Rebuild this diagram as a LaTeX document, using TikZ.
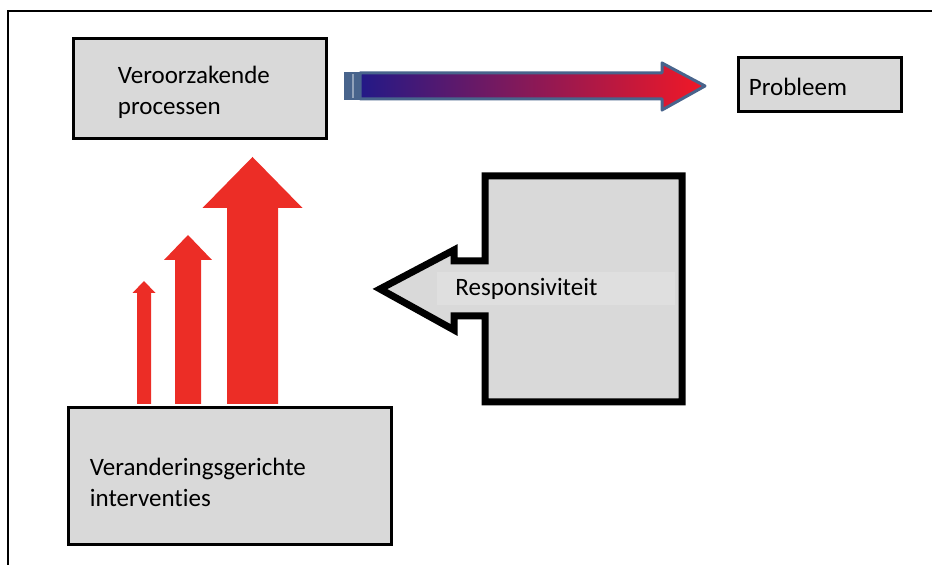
\documentclass[tikz,border=0pt]{standalone}
\usepackage{fontspec}
\setmainfont{Carlito}[RawFeature={-liga}]
\usepackage{tikz}
\definecolor{boxgray}{RGB}{217,217,217}
\definecolor{textgray}{RGB}{223,223,223}
\definecolor{arrowred}{RGB}{236,45,38}
\definecolor{startblue}{RGB}{35,25,135}
\definecolor{midpurple}{RGB}{130,25,135}
\definecolor{endred}{RGB}{242,24,38}
\definecolor{edgeblue}{RGB}{72,100,140}
\usetikzlibrary{positioning}

\begin{document}
\begin{tikzpicture}[
        x=0.5pt, y=-0.5pt,
        box/.style={rectangle, draw=black, fill=boxgray, line width=1.5pt},
        label/.style={anchor=west, inner sep=0pt, align=left,
                      font=\fontsize{12.5}{15.5}\selectfont},
        uparrow/.style={fill=arrowred}
    ]
        \useasboundingbox (0,0) rectangle (932,565);
        \draw[line width=1pt] (8,565) -- (8,11) -- (932,11);

        % boxes
        \node[box, minimum width=126.5pt, minimum height=50pt] (cause) at (200,89) {};
        \node[label, right=22.75pt of cause.west, yshift=-1.5pt] (causetext) {Veroorzakende\\processen};
        \node[box, minimum width=81.5pt, minimum height=27pt] (problem) at (820,84.5) {};
        \node[label, right=5.75pt of problem.west, yshift=-1.25pt] (problemtext) {Probleem};
        \node[box, minimum width=161.5pt, minimum height=68.5pt] (change) at (229.5,476.5) {};
        \node[label, right=11.5pt of change.west, yshift=-2.75pt] (changetext) {Veranderingsgerichte\\interventies};

        % gradient arrow
        \fill[edgeblue] (344,72) rectangle (360,100);
        \draw[edgeblue!60, line width=0.6pt] (353,74) -- (353,98);
        \shade[left color=startblue, middle color=midpurple, right color=endred, draw=edgeblue, line width=1.5pt, line join=round]
            (360,73) -- (662,73) -- (662,63) -- (705,86) -- (662,110) -- (662,99) -- (360,99) -- cycle;

        % red arrows
        \foreach \cx/\sw/\hw/\hb/\tp in {144/7/11.5/293/281, 188/13/24/260/235, 252.5/25.5/50/208/157}
            \fill[uparrow] (\cx-\sw,404) -- (\cx-\sw,\hb) -- (\cx-\hw,\hb) -- (\cx,\tp)
                -- (\cx+\hw,\hb) -- (\cx+\sw,\hb) -- (\cx+\sw,404) -- cycle;

        % responsiviteit
        \draw[fill=boxgray, line width=3.5pt, line join=miter]
            (485,176) -- (682,176) -- (682,402) -- (485,402) -- (485,316) -- (454,316)
            -- (454,330) -- (380,289) -- (454,250) -- (454,261) -- (485,261) -- cycle;
        \node[label, fill=textgray, inner xsep=9pt, minimum height=16.5pt, text width=101pt] (resp) at (437,289) {Responsiviteit};
    \end{tikzpicture}
\end{document}
